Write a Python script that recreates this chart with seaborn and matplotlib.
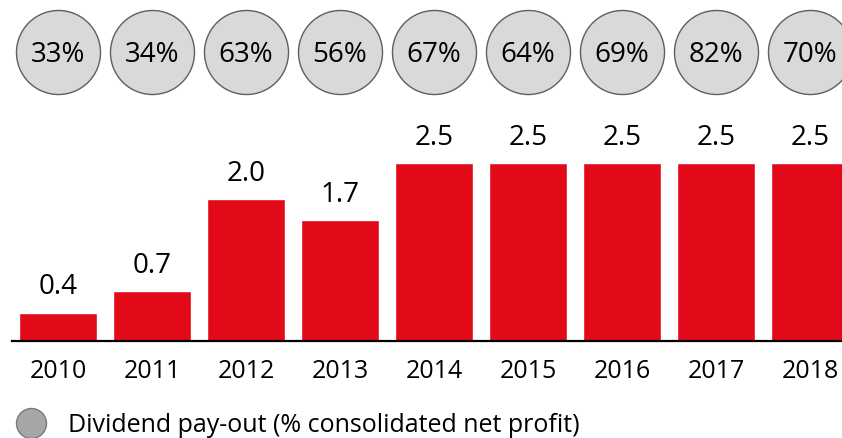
import matplotlib
matplotlib.use("Agg")
import matplotlib.pyplot as plt
from matplotlib.lines import Line2D
import seaborn as sns
import pandas as pd

years = ["2010", "2011", "2012", "2013", "2014", "2015", "2016", "2017", "2018"]
dividend = [0.4, 0.7, 2.0, 1.7, 2.5, 2.5, 2.5, 2.5, 2.5]
payout = [33, 34, 63, 56, 67, 64, 69, 82, 70]

RED = "#e20a19"
CIRCLE_FILL = "#d9d9d9"
CIRCLE_EDGE = "#5f5f5f"

sns.set_style("white")
plt.rcParams["font.family"] = ["Open Sans", "DejaVu Sans"]
plt.rcParams["text.color"] = "black"

df = pd.DataFrame({"year": years, "dividend": dividend, "payout": payout})

fig = plt.figure(figsize=(8.42, 4.38), dpi=100)
ax = fig.add_axes([12 / 842, 97 / 438, 830 / 842, 341 / 438])

sns.barplot(data=df, x="year", y="dividend", color=RED, saturation=1,
            width=0.83, ax=ax)

# value labels on bars
for cont in ax.containers:
    ax.bar_label(cont, labels=[f"{v:.1f}" for v in df["dividend"]],
                 padding=8, fontsize=20, color="black")

# pay-out circles above the bars
circle_row = 4.07
ax.scatter(range(len(df)), [circle_row] * len(df), s=3660, c=CIRCLE_FILL,
           edgecolors=CIRCLE_EDGE, linewidths=1.0, clip_on=False, zorder=3)
for i, p in enumerate(df["payout"]):
    ax.text(i, circle_row, f"{p}%", ha="center", va="center_baseline",
            fontsize=20, color="black", zorder=4)

ax.set_xlim(-0.489, 8.34)
ax.set_ylim(0, 4.8)
ax.set_xlabel("")
ax.set_ylabel("")
ax.set_yticks([])
ax.tick_params(axis="x", length=0, pad=13, labelsize=18, labelcolor="black")
for side in ["top", "right", "left"]:
    ax.spines[side].set_visible(False)
ax.spines["bottom"].set_color("black")
ax.spines["bottom"].set_linewidth(1.6)

handle = Line2D([], [], marker="o", ls="", markersize=21.6,
                markerfacecolor="#a6a6a6", markeredgecolor="#7a7a7a",
                markeredgewidth=1.0)
fig.legend([handle], ["Dividend pay-out (% consolidated net profit)"],
           loc="center left", bbox_to_anchor=(15 / 842, 13 / 438),
           frameon=False, fontsize=18, borderpad=0, borderaxespad=0,
           handlelength=1.3, handletextpad=0.8, labelcolor="black")

fig.savefig("out.png", dpi=100)
